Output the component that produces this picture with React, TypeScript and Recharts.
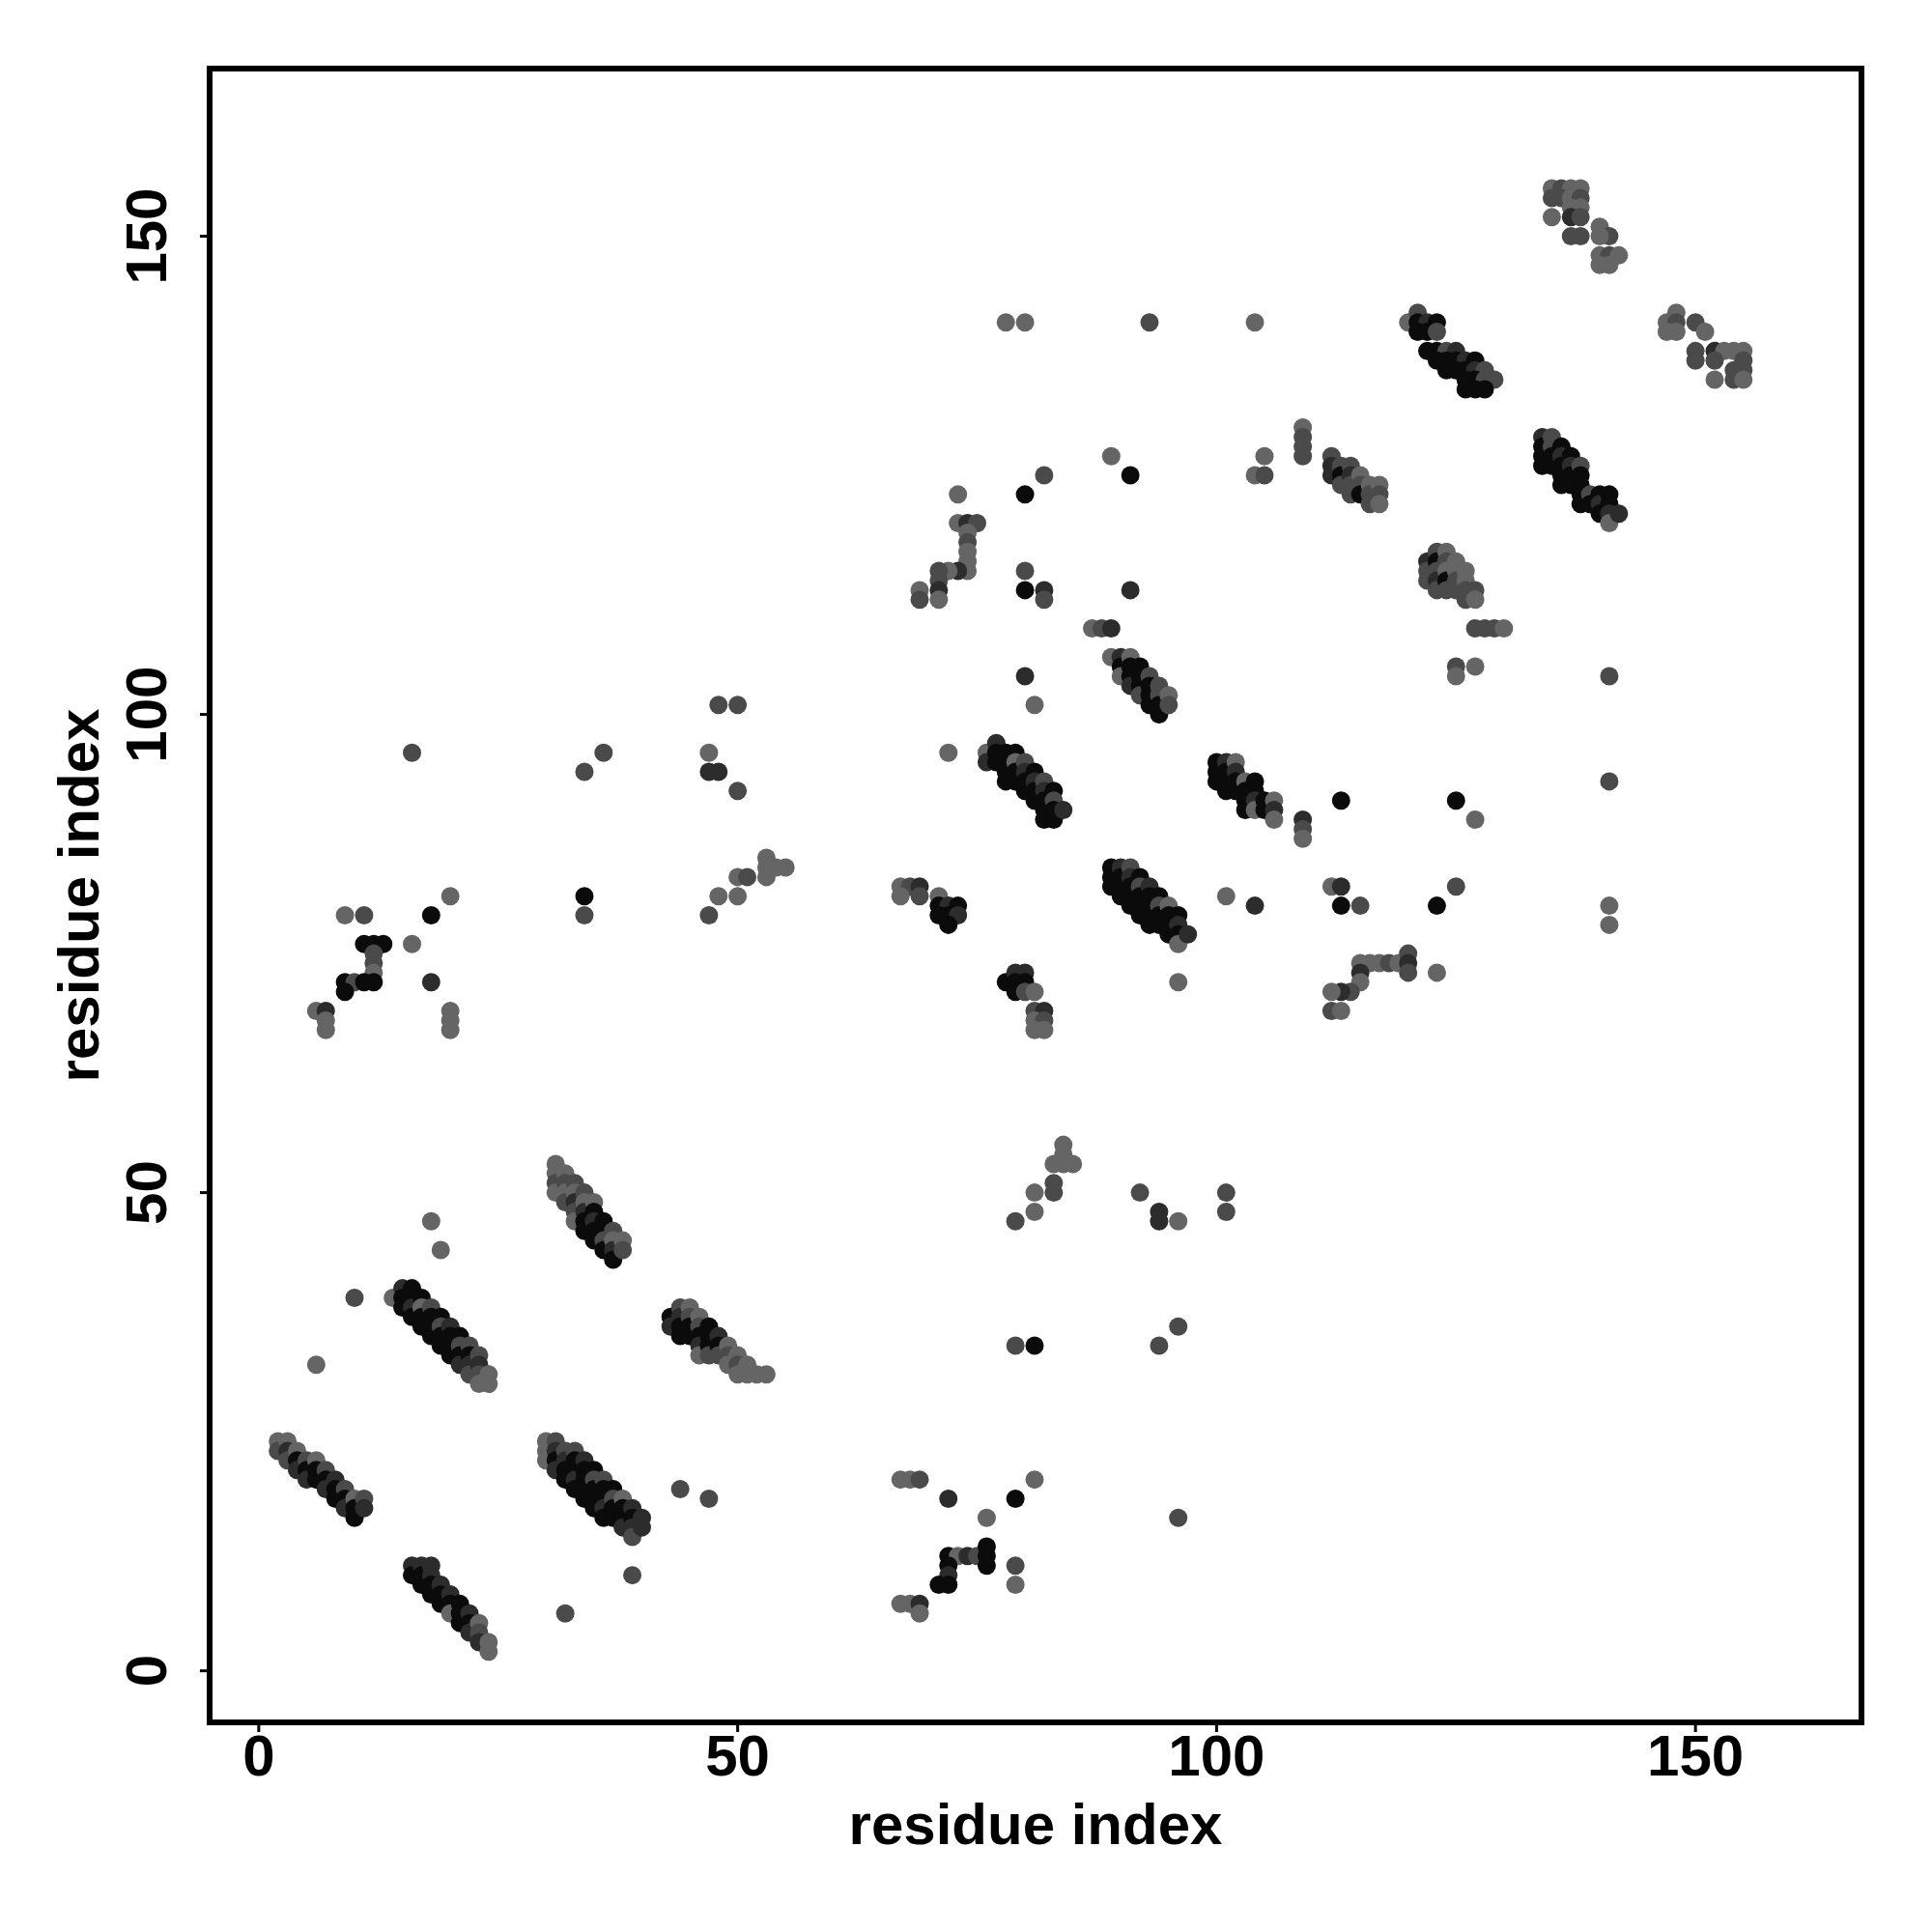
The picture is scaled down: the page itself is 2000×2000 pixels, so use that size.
import {
  ScatterChart,
  Scatter,
  XAxis,
  YAxis,
  ReferenceArea,
} from "recharts";

// [i, j, strength] contacts; strength 1 (weak) .. 4 (strong)
type Contact = [number, number, number];

const sheetA: Contact[] = [
  [2, 24, 1], [2, 23, 2], [3, 24, 1], [3, 23, 3], [3, 22, 2],
  [4, 23, 1], [4, 22, 4], [4, 21, 3], [5, 22, 2], [5, 21, 4], [5, 20, 3],
  [6, 22, 1], [6, 21, 4], [6, 20, 4], [7, 21, 2], [7, 20, 4], [7, 19, 3],
  [8, 20, 3], [8, 19, 4], [8, 18, 4], [9, 19, 2], [9, 18, 4], [9, 17, 3],
  [10, 18, 1], [10, 17, 4], [10, 16, 4], [11, 18, 2], [11, 17, 3],
];

const sheetB: Contact[] = [
  [14, 39, 1], [15, 40, 3], [15, 39, 4], [15, 38, 4],
  [16, 40, 4], [16, 39, 4], [16, 38, 3], [16, 37, 4],
  [17, 39, 4], [17, 38, 1], [17, 37, 4], [17, 36, 4],
  [18, 38, 2], [18, 37, 4], [18, 36, 4], [18, 35, 4],
  [19, 37, 4], [19, 36, 2], [19, 35, 4], [19, 34, 4],
  [20, 36, 3], [20, 35, 4], [20, 34, 4], [20, 33, 4],
  [21, 35, 4], [21, 34, 2], [21, 33, 4], [21, 32, 3],
  [22, 34, 2], [22, 33, 4], [22, 32, 3], [22, 31, 2],
  [23, 33, 2], [23, 32, 3], [23, 31, 2], [23, 30, 1],
  [24, 31, 1], [24, 30, 1],
];

const sheetC: Contact[] = [
  [16, 11, 3], [16, 10, 4], [17, 11, 3], [17, 10, 4], [17, 9, 4],
  [18, 11, 3], [18, 10, 3], [18, 9, 4], [18, 8, 4],
  [19, 9, 3], [19, 8, 4], [19, 7, 4], [20, 8, 3], [20, 7, 4], [20, 6, 1],
  [21, 7, 4], [21, 6, 4], [21, 5, 4], [22, 6, 3], [22, 5, 4], [22, 4, 3],
  [23, 5, 1], [23, 4, 2], [23, 3, 3], [24, 3, 1], [24, 2, 1],
];

const sheetD: Contact[] = [
  [31, 53, 1], [31, 52, 1], [31, 51, 2], [31, 50, 1],
  [32, 52, 1], [32, 51, 2], [32, 50, 1], [32, 49, 2],
  [33, 51, 2], [33, 50, 1], [33, 49, 3], [33, 48, 2], [33, 47, 1],
  [34, 50, 2], [34, 49, 1], [34, 48, 3], [34, 47, 4], [34, 46, 4],
  [35, 49, 1], [35, 48, 4], [35, 47, 3], [35, 46, 4], [35, 45, 4],
  [36, 47, 4], [36, 46, 4], [36, 45, 2], [36, 44, 4],
  [37, 46, 2], [37, 45, 1], [37, 44, 3], [37, 43, 4],
  [38, 45, 1], [38, 44, 2],
];

const sheetE: Contact[] = [
  [43, 37, 4], [43, 36, 3], [44, 38, 2], [44, 37, 3], [44, 36, 4], [44, 35, 4],
  [45, 38, 1], [45, 37, 2], [45, 36, 4], [45, 35, 4],
  [46, 37, 1], [46, 36, 2], [46, 35, 4], [46, 34, 3], [46, 33, 1],
  [47, 36, 4], [47, 35, 4], [47, 34, 4], [47, 33, 2],
  [48, 35, 3], [48, 34, 4], [48, 33, 2], [49, 34, 1], [49, 33, 2], [49, 32, 1],
  [50, 33, 1], [50, 32, 2], [50, 31, 1], [51, 32, 1], [51, 31, 1],
  [52, 31, 1], [53, 31, 1],
];

const sheetF: Contact[] = [
  [30, 24, 1], [30, 23, 1], [30, 22, 1],
  [31, 24, 2], [31, 23, 3], [31, 22, 4], [31, 21, 3],
  [32, 23, 2], [32, 22, 3], [32, 21, 4], [32, 20, 4],
  [33, 23, 2], [33, 22, 4], [33, 21, 4], [33, 20, 3], [33, 19, 4],
  [34, 22, 3], [34, 21, 4], [34, 20, 4], [34, 19, 4], [34, 18, 4],
  [35, 21, 4], [35, 20, 2], [35, 19, 4], [35, 18, 4], [35, 17, 4],
  [36, 20, 2], [36, 19, 4], [36, 18, 4], [36, 17, 3], [36, 16, 4],
  [37, 19, 4], [37, 18, 2], [37, 17, 4], [37, 16, 4],
  [38, 18, 1], [38, 17, 4], [38, 16, 4], [38, 15, 3],
  [39, 17, 3], [39, 16, 4], [39, 15, 3], [39, 14, 2],
  [40, 16, 3], [40, 15, 3],
];

const lowScattered: Contact[] = [
  [18, 47, 1], [19, 44, 1], [10, 39, 2], [6, 32, 1], [44, 19, 2], [47, 18, 2],
  [39, 10, 2], [32, 6, 2],
  [83, 51, 2], [83, 50, 2], [81, 50, 1], [81, 48, 1], [79, 47, 2],
  [92, 50, 2], [94, 48, 3], [94, 47, 3], [96, 47, 1], [101, 50, 2], [101, 48, 2],
  [96, 36, 2], [94, 34, 2], [79, 34, 2], [81, 34, 4],
  [67, 20, 1], [68, 20, 1], [69, 20, 2], [72, 18, 3], [79, 18, 4], [81, 20, 1],
  [76, 16, 1], [96, 16, 2],
  [72, 12, 4], [73, 12, 1], [74, 12, 3], [75, 12, 2], [76, 13, 4], [76, 12, 4],
  [76, 11, 4], [72, 11, 4], [72, 10, 3], [71, 9, 4], [72, 9, 4],
  [79, 11, 2], [79, 9, 1], [67, 7, 1], [68, 7, 1], [69, 7, 3], [69, 6, 1],
  [84, 55, 1], [84, 54, 1], [83, 53, 1], [84, 53, 1], [85, 53, 1],
];

const midLeft: Contact[] = [
  [48, 101, 2], [50, 101, 2], [16, 96, 2], [36, 96, 2], [34, 94, 2],
  [47, 96, 1], [47, 94, 3], [48, 94, 3], [50, 92, 2],
  [50, 83, 1], [51, 83, 2], [53, 85, 1], [53, 84, 1], [53, 83, 1], [54, 84, 1], [55, 84, 1],
  [48, 81, 1], [50, 81, 1], [47, 79, 2], [34, 81, 4], [34, 79, 2],
  [20, 81, 1], [18, 79, 4], [9, 79, 1], [11, 79, 2], [16, 76, 1],
  [11, 76, 4], [12, 76, 4], [13, 76, 4], [12, 75, 2], [12, 74, 2], [12, 73, 1],
  [12, 72, 4], [9, 72, 4], [10, 72, 2], [11, 72, 4], [9, 71, 4], [18, 72, 3],
  [6, 69, 1], [7, 69, 3], [7, 68, 1], [7, 67, 1], [20, 69, 1], [20, 68, 1], [20, 67, 1],
];

const sheetK: Contact[] = [
  [87, 109, 1], [88, 109, 2], [89, 109, 3],
  [89, 106, 1], [90, 106, 3], [90, 105, 4], [90, 104, 1],
  [91, 106, 1], [91, 105, 4], [91, 104, 4], [91, 103, 3],
  [92, 105, 4], [92, 104, 4], [92, 103, 4], [92, 102, 2],
  [93, 104, 2], [93, 103, 4], [93, 102, 4], [93, 101, 4],
  [94, 103, 2], [94, 102, 2], [94, 101, 4], [94, 100, 4],
  [95, 102, 1], [95, 101, 2],
  [80, 104, 3], [81, 101, 1], [72, 96, 1],
];

const sheetL: Contact[] = [
  [76, 96, 1], [76, 95, 3], [77, 97, 3], [77, 96, 4], [77, 95, 4],
  [78, 96, 4], [78, 95, 4], [78, 94, 4], [78, 93, 4],
  [79, 96, 4], [79, 95, 1], [79, 94, 4], [79, 93, 4],
  [80, 95, 2], [80, 94, 3], [80, 93, 4], [80, 92, 4],
  [81, 94, 4], [81, 93, 3], [81, 92, 4], [81, 91, 4],
  [82, 93, 2], [82, 92, 3], [82, 91, 4], [82, 90, 4], [82, 89, 4],
  [83, 92, 4], [83, 91, 2], [83, 90, 4], [83, 89, 4], [84, 90, 3],
];

const sheetM: Contact[] = [
  [100, 95, 4], [100, 94, 4], [100, 93, 4],
  [101, 95, 3], [101, 94, 4], [101, 93, 4], [101, 92, 4],
  [102, 95, 1], [102, 94, 3], [102, 93, 4], [102, 92, 4],
  [103, 93, 1], [103, 92, 4], [103, 91, 4], [103, 90, 4],
  [104, 93, 4], [104, 92, 4], [104, 91, 3], [104, 90, 1],
  [105, 91, 4], [105, 90, 4], [106, 91, 1], [106, 90, 3], [106, 89, 1],
  [109, 89, 3], [109, 88, 2], [109, 87, 1], [101, 81, 1], [104, 80, 3],
];

const sheetN: Contact[] = [
  [89, 84, 4], [89, 83, 4], [89, 82, 4],
  [90, 84, 3], [90, 83, 4], [90, 82, 4], [90, 81, 4],
  [91, 84, 2], [91, 83, 3], [91, 82, 4], [91, 81, 4], [91, 80, 4],
  [92, 83, 4], [92, 82, 2], [92, 81, 4], [92, 80, 4], [92, 79, 4],
  [93, 82, 3], [93, 81, 4], [93, 80, 4], [93, 79, 4], [93, 78, 4],
  [94, 81, 4], [94, 80, 2], [94, 79, 4], [94, 78, 4],
  [95, 80, 1], [95, 79, 4], [95, 78, 4], [95, 77, 4],
  [96, 79, 4], [96, 78, 3], [96, 77, 4], [96, 76, 1], [97, 77, 3], [96, 72, 1],
];

const clustersOP: Contact[] = [
  [67, 82, 1], [68, 82, 2], [69, 82, 3], [67, 81, 1], [69, 81, 2],
  [71, 81, 1], [71, 80, 4], [72, 80, 3], [73, 80, 4], [71, 79, 4], [72, 79, 4],
  [73, 79, 3], [72, 78, 4],
  [78, 72, 4], [79, 73, 3], [80, 73, 3], [79, 72, 4], [80, 72, 4], [79, 71, 4],
  [80, 71, 2], [81, 71, 1], [81, 69, 2], [82, 69, 3], [81, 68, 1], [82, 68, 2],
  [81, 67, 1], [82, 67, 1],
];

const midRight: Contact[] = [
  [127, 109, 2], [128, 109, 2], [129, 109, 2], [130, 109, 1],
  [125, 105, 2], [125, 104, 1], [127, 105, 1], [141, 104, 2], [141, 93, 2],
  [113, 91, 4], [125, 91, 4], [127, 89, 1],
  [112, 82, 1], [113, 82, 3], [113, 80, 4], [115, 80, 2], [123, 80, 4], [125, 82, 2],
  [141, 80, 1], [141, 78, 1],
  [115, 74, 1], [116, 74, 1], [117, 74, 1], [118, 74, 2], [119, 74, 1],
  [120, 75, 2], [120, 74, 3], [120, 73, 2], [115, 73, 3], [115, 72, 1],
  [114, 71, 2], [113, 71, 3], [112, 71, 1], [112, 69, 2], [113, 69, 1], [123, 73, 1],
];

const upperMid: Contact[] = [
  [78, 141, 1], [80, 141, 1], [93, 141, 2], [104, 141, 1],
  [109, 130, 1], [109, 129, 2], [109, 128, 2], [109, 127, 2],
  [105, 127, 1], [104, 125, 1], [105, 125, 2],
  [89, 127, 1], [91, 125, 4], [82, 125, 2], [73, 123, 1], [80, 123, 4],
  [73, 120, 1], [74, 120, 3], [75, 120, 2], [74, 119, 1], [74, 118, 2],
  [74, 117, 1], [74, 116, 1], [74, 115, 1], [73, 115, 3], [72, 115, 1],
  [71, 115, 2], [71, 114, 2], [71, 113, 3], [71, 112, 1], [69, 113, 1], [69, 112, 2],
  [80, 115, 2], [80, 113, 4], [82, 113, 3], [82, 112, 2], [91, 113, 3],
];

const sheetS: Contact[] = [
  [135, 155, 1], [136, 155, 2], [137, 155, 1], [138, 155, 1],
  [135, 154, 2], [136, 154, 2], [137, 154, 1], [138, 154, 2],
  [137, 153, 1], [138, 153, 1], [135, 152, 1], [137, 152, 3], [138, 152, 2],
  [137, 150, 2], [138, 150, 2], [140, 151, 1], [141, 150, 2], [140, 150, 1],
  [140, 148, 1], [141, 148, 2], [142, 148, 1], [140, 147, 1], [141, 147, 1],
];

const sheetT: Contact[] = [
  [148, 142, 1], [147, 141, 1], [148, 141, 2], [147, 140, 1], [148, 140, 1],
  [150, 141, 2], [151, 140, 1], [150, 138, 2], [150, 137, 2],
  [152, 138, 3], [153, 138, 1], [154, 138, 1], [155, 138, 1],
  [152, 137, 2], [155, 137, 2], [154, 136, 2], [155, 136, 2],
  [152, 135, 1], [154, 135, 2], [155, 135, 1],
];

const sheetU: Contact[] = [
  [120, 141, 1], [121, 142, 2], [121, 141, 4], [122, 141, 3], [123, 141, 4],
  [121, 140, 4], [122, 140, 4], [123, 140, 2],
  [122, 138, 4], [123, 138, 4], [124, 138, 2], [125, 138, 3],
  [123, 137, 4], [124, 137, 4], [125, 137, 4], [126, 137, 3], [127, 137, 4],
  [124, 136, 4], [125, 136, 4], [126, 136, 4], [127, 136, 3], [128, 136, 2],
  [126, 135, 4], [127, 135, 4], [128, 135, 2], [129, 135, 2],
  [126, 134, 4], [127, 134, 4], [128, 134, 4],
];

const sheetV: Contact[] = [
  [112, 127, 2], [112, 126, 3], [112, 125, 3], [113, 126, 2], [113, 125, 4],
  [113, 124, 2], [114, 126, 2], [114, 125, 3], [114, 124, 2], [114, 123, 2],
  [115, 125, 1], [115, 124, 2], [115, 123, 4], [116, 124, 1], [116, 123, 2],
  [116, 122, 2], [117, 124, 1], [117, 123, 2], [117, 122, 1],
];

const sheetW: Contact[] = [
  [134, 129, 3], [134, 128, 4], [134, 127, 4], [134, 126, 4],
  [135, 129, 2], [135, 128, 2], [135, 127, 4], [135, 126, 4],
  [136, 128, 4], [136, 127, 3], [136, 126, 4], [136, 125, 4], [136, 124, 4],
  [137, 127, 4], [137, 126, 3], [137, 125, 4], [137, 124, 4],
  [138, 126, 2], [138, 125, 4], [138, 124, 4], [138, 123, 4], [138, 122, 4],
  [139, 123, 2], [139, 122, 4], [140, 123, 4], [140, 122, 3], [140, 121, 4],
  [141, 123, 4], [141, 122, 4], [141, 121, 3], [141, 120, 1], [142, 121, 3],
];

const sheetX: Contact[] = [
  [122, 116, 3], [122, 115, 2], [122, 114, 2],
  [123, 117, 2], [123, 116, 4], [123, 115, 2], [123, 114, 3], [123, 113, 2],
  [124, 117, 1], [124, 116, 2], [124, 115, 1], [124, 114, 4], [124, 113, 2],
  [125, 116, 1], [125, 115, 1], [125, 114, 2], [125, 113, 2],
  [126, 115, 1], [126, 114, 1], [126, 113, 2], [126, 112, 2],
  [127, 113, 2], [127, 112, 1],
];

const AXIS_TICKS = [0, 50, 100, 150];

const contacts = [
  sheetA, sheetB, sheetC, sheetD, sheetE, sheetF, lowScattered, midLeft,
  sheetK, sheetL, sheetM, sheetN, clustersOP, midRight, upperMid,
  sheetS, sheetT, sheetU, sheetV, sheetW, sheetX,
]
  .flat()
  .map(([x, y, w]) => ({ x, y, w }));

const GRAYS: Record<number, string> = {
  1: "#656565",
  2: "#4a4a4a",
  3: "#2c2c2c",
  4: "#0b0b0b",
};

const FONT = "'Liberation Sans', Arial, Helvetica, sans-serif";

function Dot(props: any) {
  const { cx, cy, payload } = props;
  if (cx == null || cy == null) return null;
  return <circle cx={cx} cy={cy} r={9.5} fill={GRAYS[payload.w]} />;
}

function XTick({ x, y, payload }: any) {
  return (
    <text x={x} y={y + 45} textAnchor="middle" fontSize={60} fontWeight="bold" fontFamily={FONT} fill="#000">
      {payload.value}
    </text>
  );
}

function YTick({ x, y, payload }: any) {
  const bx = x - 35;
  return (
    <text
      x={bx}
      y={y}
      transform={`rotate(-90 ${bx} ${y})`}
      textAnchor="middle"
      fontSize={60}
      fontWeight="bold"
      fontFamily={FONT}
      fill="#000"
    >
      {payload.value}
    </text>
  );
}

export default function App() {
  return (
    <div style={{ position: "absolute", left: 0, top: 0, width: 2000, height: 2000, background: "#fff" }}>
      <ScatterChart width={2000} height={2000} margin={{ top: 71, right: 73, bottom: 97, left: 117 }}>
        <XAxis
          type="number"
          dataKey="x"
          domain={[-5.13, 167.33]}
          ticks={AXIS_TICKS}
          allowDataOverflow
          height={120}
          axisLine={false}
          tickSize={10}
          tickMargin={0}
          tickLine={{ stroke: "#000", strokeWidth: 3 }}
          tick={<XTick />}
          label={{
            content: ({ viewBox }: any) => (
              <text
                x={viewBox.x + viewBox.width / 2}
                y={viewBox.y + 126}
                textAnchor="middle"
                fontSize={60}
                fontWeight="bold"
                fontFamily={FONT}
                fill="#000"
              >
                residue index
              </text>
            ),
          }}
        />
        <YAxis
          type="number"
          dataKey="y"
          domain={[-5.39, 167.53]}
          ticks={AXIS_TICKS}
          allowDataOverflow
          width={100}
          axisLine={false}
          tickSize={10}
          tickMargin={0}
          tickLine={{ stroke: "#000", strokeWidth: 3 }}
          tick={<YTick />}
          label={{
            content: ({ viewBox }: any) => {
              const lx = 102;
              const ly = viewBox.y + viewBox.height / 2;
              return (
                <text
                  x={lx}
                  y={ly}
                  transform={`rotate(-90 ${lx} ${ly})`}
                  textAnchor="middle"
                  fontSize={60}
                  fontWeight="bold"
                  fontFamily={FONT}
                  fill="#000"
                >
                  residue index
                </text>
              );
            },
          }}
        />
        <Scatter data={contacts} shape={<Dot />} isAnimationActive={false} />
        <ReferenceArea
          x1={-5.13}
          x2={167.33}
          y1={-5.39}
          y2={167.53}
          fill="none"
          fillOpacity={0}
          stroke="#000"
          strokeWidth={6}
          ifOverflow="visible"
        />
      </ScatterChart>
    </div>
  );
}
